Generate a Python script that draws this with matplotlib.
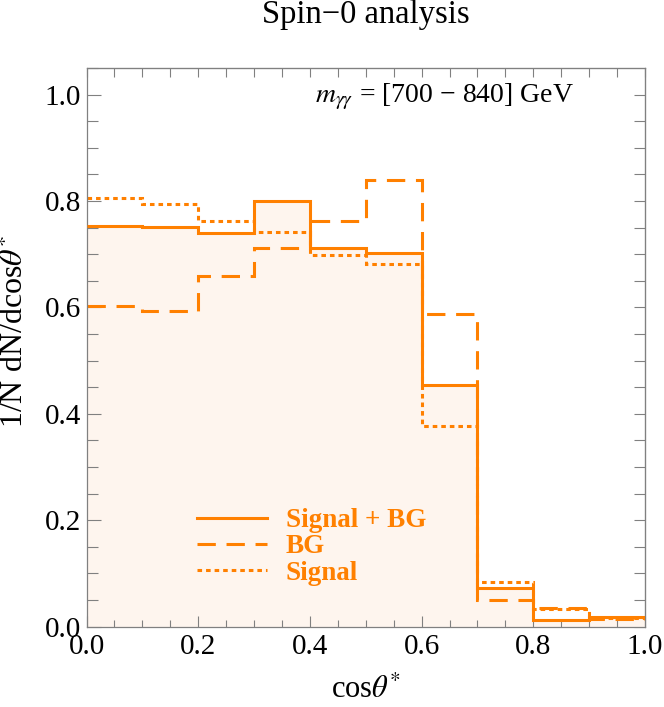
import matplotlib
matplotlib.use('Agg')
import matplotlib.pyplot as plt
from matplotlib.lines import Line2D
from matplotlib.ticker import MultipleLocator
import numpy as np

plt.rcParams['font.family'] = ['Liberation Serif', 'DejaVu Serif']
plt.rcParams['mathtext.fontset'] = 'stix'

# bin edges in cos(theta*)
edges = [0.0, 0.1, 0.2, 0.3, 0.4, 0.5, 0.6, 0.7, 0.8, 0.9, 1.0]

# normalised distributions
sig_bg = [0.754, 0.751, 0.739, 0.800, 0.712, 0.703, 0.454, 0.072, 0.013, 0.018]
bg     = [0.603, 0.593, 0.660, 0.711, 0.763, 0.840, 0.587, 0.050, 0.035, 0.014]
signal = [0.805, 0.795, 0.763, 0.742, 0.698, 0.682, 0.377, 0.084, 0.034, 0.016]

orange = '#ff8000'
fill_c = '#fef5ee'
frame_c = '#808080'
dash = (0, (6, 3.5))
dot = (0, (1.5, 1.3))

W, H = 664, 707
fig = plt.figure(figsize=(W / 100, H / 100), dpi=100)
ax = fig.add_axes([86.5 / W, 1 - 626.7 / H, (645 - 86.5) / W, (626.7 - 68) / H])

# histogram fill + outlines
ax.stairs(sig_bg, edges, fill=True, color=fill_c, zorder=1)
ax.stairs(bg, edges, baseline=None, color=orange, lw=2.2, linestyle=dash, zorder=2)
ax.stairs(signal, edges, baseline=None, color=orange, lw=2.2, linestyle=dot, zorder=2)
ax.stairs(sig_bg, edges, baseline=None, color=orange, lw=2.2, zorder=3)

ax.set_xlim(0, 1)
ax.set_ylim(0, 1.05)
ax.set_xticks(np.arange(0, 1.01, 0.2))
ax.set_yticks(np.arange(0, 1.01, 0.2))
ax.xaxis.set_minor_locator(MultipleLocator(0.05))
ax.yaxis.set_minor_locator(MultipleLocator(0.05))
ax.xaxis.set_major_formatter('{x:.1f}')
ax.yaxis.set_major_formatter('{x:.1f}')

ax.tick_params(axis='x', which='major', direction='in', length=8, width=0.8, color=frame_c,
               labelsize=21, pad=5)
ax.tick_params(axis='x', which='minor', direction='in', length=5, width=0.8, color=frame_c)
ax.tick_params(axis='y', which='major', direction='in', length=10, width=0.8, color=frame_c,
               labelsize=21, pad=4)
ax.tick_params(axis='y', which='minor', direction='in', length=8, width=0.8, color=frame_c)
for s in ax.spines.values():
    s.set_color(frame_c)
    s.set_linewidth(0.9)

# frame ticks on top and right (no labels)
top = ax.secondary_xaxis('top')
top.set_xticks(np.arange(0, 1.01, 0.05))
top.tick_params(direction='in', length=6.5, width=0.8, color=frame_c, labeltop=False)
top.spines['top'].set_color(frame_c)
right = ax.secondary_yaxis('right')
right.set_yticks(np.arange(0, 1.01, 0.05))
right.tick_params(direction='in', length=8, width=0.8, color=frame_c, labelright=False)
right.spines['right'].set_color(frame_c)

# labels
fig.text(15 / W, 1 - 331 / H, r'1/N dN/dcos$\theta^{*}$', rotation=90,
         ha='center', va='center', fontsize=23)
fig.text(366 / W, 1 - 690 / H, r'cos$\theta^{*}$', ha='center', va='center', fontsize=22)
fig.text(366 / W, 1 - 15 / H, 'Spin\u22120 analysis', ha='center', va='center', fontsize=23.5)
fig.text(444 / W, 1 - 102 / H, '$m_{\\gamma\\gamma}$ = [700 \u2212 840] GeV',
         ha='center', va='baseline', fontsize=20)

# legend
handles = [Line2D([], [], color=orange, lw=2.2),
           Line2D([], [], color=orange, lw=2.2, linestyle=dash),
           Line2D([], [], color=orange, lw=2.2, linestyle=dot)]
labels = ['Signal + BG', 'BG', 'Signal']
ax.legend(handles, labels, loc='upper left', bbox_to_anchor=(197 / W, 1 - 508 / H),
          bbox_transform=fig.transFigure, frameon=False, borderpad=0, borderaxespad=0,
          handlelength=2.6, handletextpad=0.67, labelspacing=0.05, labelcolor=orange,
          prop={'family': 'Liberation Serif', 'weight': 'bold', 'size': 19.5})

fig.savefig('out.png', dpi=100)
